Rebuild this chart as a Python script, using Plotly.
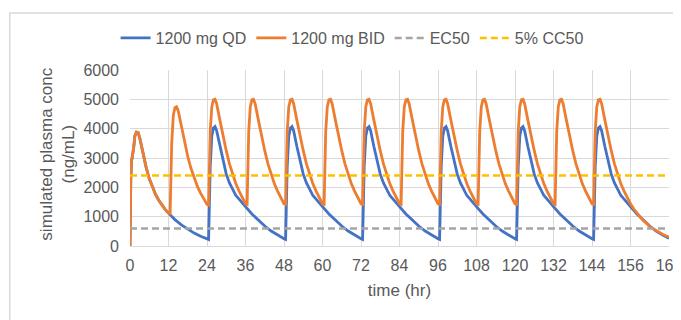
import plotly.graph_objects as go

# ---- data ----
qd_time = [
    0, 0.1, 0.25, 0.5, 0.75, 1, 1.25, 1.5, 2, 2.5, 3, 3.5, 4, 5, 6, 7, 8, 9, 10, 11, 12, 14, 16, 18, 20, 22, 24,
    24.5, 25, 25.5, 26, 26.5, 27, 28, 29, 30, 31, 32, 33, 34, 35, 36, 38, 40, 42, 44, 46, 48,
    48.5, 49, 49.5, 50, 50.5, 51, 52, 53, 54, 55, 56, 57, 58, 59, 60, 62, 64, 66, 68, 70, 72,
    72.5, 73, 73.5, 74, 74.5, 75, 76, 77, 78, 79, 80, 81, 82, 83, 84, 86, 88, 90, 92, 94, 96,
    96.5, 97, 97.5, 98, 98.5, 99, 100, 101, 102, 103, 104, 105, 106, 107, 108, 110, 112, 114, 116, 118, 120,
    120.5, 121, 121.5, 122, 122.5, 123, 124, 125, 126, 127, 128, 129, 130, 131, 132, 134, 136, 138, 140, 142, 144,
    144.5, 145, 145.5, 146, 146.5, 147, 148, 149, 150, 151, 152, 153, 154, 155, 156, 158, 160, 162, 164, 166, 168,
]
qd_conc = [
    0, 1800, 2300, 2900, 3200, 3250, 3450, 3750, 3880, 3870, 3700, 3450, 3150, 2700, 2300, 2000, 1750, 1550, 1380, 1240, 1120, 900, 720, 570, 440, 330, 240,
    225, 2700, 3750, 4020, 4070, 3930, 3400, 2900, 2450, 2150, 1920, 1720, 1600, 1460, 1340, 1090, 870, 680, 510, 370, 245,
    225, 2700, 3750, 4020, 4070, 3930, 3400, 2900, 2450, 2150, 1920, 1720, 1600, 1460, 1340, 1090, 870, 680, 510, 370, 245,
    225, 2700, 3750, 4020, 4070, 3930, 3400, 2900, 2450, 2150, 1920, 1720, 1600, 1460, 1340, 1090, 870, 680, 510, 370, 245,
    225, 2700, 3750, 4020, 4070, 3930, 3400, 2900, 2450, 2150, 1920, 1720, 1600, 1460, 1340, 1090, 870, 680, 510, 370, 245,
    225, 2700, 3750, 4020, 4070, 3930, 3400, 2900, 2450, 2150, 1920, 1720, 1600, 1460, 1340, 1090, 870, 680, 510, 370, 245,
    225, 2700, 3750, 4020, 4070, 3930, 3400, 2900, 2450, 2150, 1920, 1720, 1600, 1460, 1340, 1090, 870, 680, 510, 370, 260,
]

bid_time = [
    0, 0.1, 0.25, 0.5, 0.75, 1, 1.25, 1.5, 2, 2.5, 3, 3.5, 4, 5, 6, 7, 8, 9, 10, 11, 12,
    12.5, 13, 13.5, 14, 14.5, 15, 16, 17, 18, 19, 20, 21, 22, 23, 24,
    24.5, 25, 25.5, 26, 26.5, 27, 28, 29, 30, 31, 32, 33, 34, 35, 36,
    36.5, 37, 37.5, 38, 38.5, 39, 40, 41, 42, 43, 44, 45, 46, 47, 48,
    48.5, 49, 49.5, 50, 50.5, 51, 52, 53, 54, 55, 56, 57, 58, 59, 60,
    60.5, 61, 61.5, 62, 62.5, 63, 64, 65, 66, 67, 68, 69, 70, 71, 72,
    72.5, 73, 73.5, 74, 74.5, 75, 76, 77, 78, 79, 80, 81, 82, 83, 84,
    84.5, 85, 85.5, 86, 86.5, 87, 88, 89, 90, 91, 92, 93, 94, 95, 96,
    96.5, 97, 97.5, 98, 98.5, 99, 100, 101, 102, 103, 104, 105, 106, 107, 108,
    108.5, 109, 109.5, 110, 110.5, 111, 112, 113, 114, 115, 116, 117, 118, 119, 120,
    120.5, 121, 121.5, 122, 122.5, 123, 124, 125, 126, 127, 128, 129, 130, 131, 132,
    132.5, 133, 133.5, 134, 134.5, 135, 136, 137, 138, 139, 140, 141, 142, 143, 144,
    144.5, 145, 145.5, 146, 146.5, 147, 148, 149, 150, 151, 152, 153, 154, 155, 156,
    157, 158, 159, 160, 161, 162, 163, 164, 165, 166, 167, 168,
]
bid_conc = [
    0, 1800, 2300, 2900, 3200, 3250, 3450, 3750, 3880, 3870, 3700, 3450, 3150, 2700, 2300, 2000, 1750, 1550, 1380, 1240, 1120,
    1100, 3500, 4450, 4720, 4750, 4620, 4100, 3550, 3050, 2650, 2320, 2030, 1800, 1600, 1420,
    1400, 3900, 4750, 4980, 5000, 4850, 4300, 3750, 3250, 2800, 2430, 2120, 1870, 1640, 1440,
    1420, 3900, 4750, 4980, 5000, 4850, 4300, 3750, 3250, 2800, 2430, 2120, 1870, 1640, 1440,
    1420, 3900, 4750, 4980, 5000, 4850, 4300, 3750, 3250, 2800, 2430, 2120, 1870, 1640, 1440,
    1420, 3900, 4750, 4980, 5000, 4850, 4300, 3750, 3250, 2800, 2430, 2120, 1870, 1640, 1440,
    1420, 3900, 4750, 4980, 5000, 4850, 4300, 3750, 3250, 2800, 2430, 2120, 1870, 1640, 1440,
    1420, 3900, 4750, 4980, 5000, 4850, 4300, 3750, 3250, 2800, 2430, 2120, 1870, 1640, 1440,
    1420, 3900, 4750, 4980, 5000, 4850, 4300, 3750, 3250, 2800, 2430, 2120, 1870, 1640, 1440,
    1420, 3900, 4750, 4980, 5000, 4850, 4300, 3750, 3250, 2800, 2430, 2120, 1870, 1640, 1440,
    1420, 3900, 4750, 4980, 5000, 4850, 4300, 3750, 3250, 2800, 2430, 2120, 1870, 1640, 1440,
    1420, 3900, 4750, 4980, 5000, 4850, 4300, 3750, 3250, 2800, 2430, 2120, 1870, 1640, 1440,
    1420, 3900, 4750, 4980, 5000, 4850, 4300, 3750, 3250, 2800, 2430, 2120, 1870, 1640, 1440,
    1270, 1120, 990, 870, 760, 670, 590, 520, 455, 400, 350, 310,
]

ec50_x = [0, 168]
ec50_y = [600, 600]
cc50_x = [0, 168]
cc50_y = [2400, 2400]

x_ticks = [0, 12, 24, 36, 48, 60, 72, 84, 96, 108, 120, 132, 144, 156, 168]
y_ticks = [0, 1000, 2000, 3000, 4000, 5000, 6000]

assert len(qd_time) == len(qd_conc)
assert len(bid_time) == len(bid_conc)

FONT = "Liberation Sans, Arial, sans-serif"
TXT = "#595959"
GRID = "#d9d9d9"

fig = go.Figure()
fig.add_trace(go.Scatter(x=qd_time, y=qd_conc, mode="lines", name="1200 mg QD",
                         line=dict(color="#4472c4", width=2.8)))
fig.add_trace(go.Scatter(x=bid_time, y=bid_conc, mode="lines", name="1200 mg BID",
                         line=dict(color="#ed7d31", width=2.8)))
fig.add_trace(go.Scatter(x=ec50_x, y=ec50_y, mode="lines", name="EC50",
                         line=dict(color="#a5a5a5", width=2.5, dash="7px,4px")))
fig.add_trace(go.Scatter(x=cc50_x, y=cc50_y, mode="lines", name="5% CC50",
                         line=dict(color="#ffc000", width=2.5, dash="7px,4px")))

# page body has an 8px default margin: work in page pixels, convert to figure pixels
OFF = 8
W, H = 681 - OFF, 320 - OFF
L, R = 129.5 - OFF, 669.5 - OFF
T, B = 70 - OFF, 246 - OFF


def px(xp):
    return (xp - OFF - L) / (R - L)


def py(yp):
    return (B - (yp - OFF)) / (B - T)


fig.update_layout(
    width=W, height=H,
    margin=dict(l=L, r=W - R, t=T, b=H - B, pad=0, autoexpand=False),
    paper_bgcolor="white", plot_bgcolor="white",
    font=dict(family=FONT, size=16, color=TXT),
    showlegend=True,
    legend=dict(orientation="h", x=px(352), xanchor="center",
                y=py(38), yanchor="middle",
                font=dict(size=16, color=TXT), bgcolor="rgba(0,0,0,0)",
                itemwidth=30, tracegroupgap=0),
    xaxis=dict(range=[0, 168], tickvals=x_ticks, ticktext=[str(v) for v in x_ticks],
               showgrid=True, gridcolor=GRID, gridwidth=1,
               showline=True, linecolor=GRID, linewidth=1,
               zeroline=False, ticks="", tickfont=dict(size=16, color=TXT),
               ticklabeloverflow="allow", ticklabelstandoff=5,
               title=dict(text="time (hr)", font=dict(size=17, color=TXT), standoff=10)),
    yaxis=dict(range=[0, 6000], tickvals=y_ticks, ticktext=[str(v) for v in y_ticks],
               showgrid=True, gridcolor=GRID, gridwidth=1,
               showline=False, zeroline=False, ticks="", ticklabelstandoff=10,
               ticklabeloverflow="allow",
               tickfont=dict(size=16, color=TXT)),
    annotations=[dict(text="simulated plasma conc<br>(ng/mL)", textangle=-90,
                      xref="paper", yref="paper",
                      x=px(56), y=py(154),
                      xanchor="center", yanchor="middle", showarrow=False,
                      font=dict(size=17, color=TXT, family=FONT))],
    shapes=[dict(type="rect", xref="paper", yref="paper",
                 x0=px(9), x1=px(720),
                 y0=py(360), y1=py(13),
                 line=dict(color="#d9d9d9", width=1.5), fillcolor="rgba(0,0,0,0)",
                 layer="below")],
)

fig.write_html("out.html")
